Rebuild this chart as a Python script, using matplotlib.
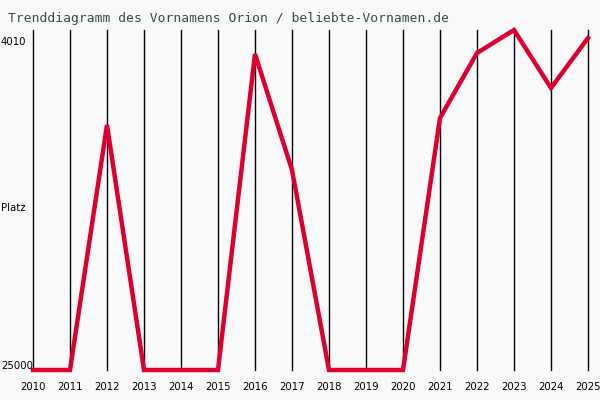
import matplotlib
matplotlib.use("Agg")
import matplotlib.pyplot as plt
import matplotlib.transforms as mtransforms

years = list(range(2010, 2026))
ranks = [25000, 25000, 9510, 25000, 25000, 25000, 5022, 12355,
         25000, 25000, 25000, 9068, 4958, 3504, 7171, 4010]
ytick_vals = [4010, 25000]
ytick_labels = ["4010", "25000"]
title = "Trenddiagramm des Vornamens Orion / beliebte-Vornamen.de"

W, H = 600, 400
fig = plt.figure(figsize=(6, 4), dpi=100, facecolor="#f9f9f9")
ax = fig.add_axes([33 / W, 1 - 370 / H, (588 - 33) / W, (370 - 30) / H])
ax.set_facecolor("#f9f9f9")

for y in years:
    ax.axvline(y, color="black", lw=1.0, zorder=1, clip_on=False)
ax.plot(years, ranks, color="#dc0030", lw=3.2, zorder=3, solid_joinstyle="miter",
        clip_on=False)

ax.set_xlim(2010, 2025)
ax.set_ylim(25000, 3504)
for s in ax.spines.values():
    s.set_visible(False)

tfont = dict(fontsize=7.3, family="DejaVu Sans")
ax.set_xticks(years)
ax.set_xticklabels([str(y) for y in years], **tfont)
ax.tick_params(axis="x", length=0, pad=8.5)
ax.set_yticks([])

blend = mtransforms.blended_transform_factory(fig.transFigure, ax.transData)
offsets = [-4, 4]
for v, lab, off in zip(ytick_vals, ytick_labels, offsets):
    tr = blend + mtransforms.ScaledTranslation(0, off / 100, fig.dpi_scale_trans)
    ax.text(1 / W, v, lab, transform=tr, ha="left", va="center", **tfont)
fig.text(1 / W, 1 - 208 / H, "Platz", ha="left", va="center", **tfont)

fig.text(8 / W, 1 - 18.5 / H, title, fontsize=9.4, family="DejaVu Sans Mono",
         color="#2f4f4f", ha="left", va="center")

fig.savefig("out.png", dpi=100, facecolor=fig.get_facecolor())
